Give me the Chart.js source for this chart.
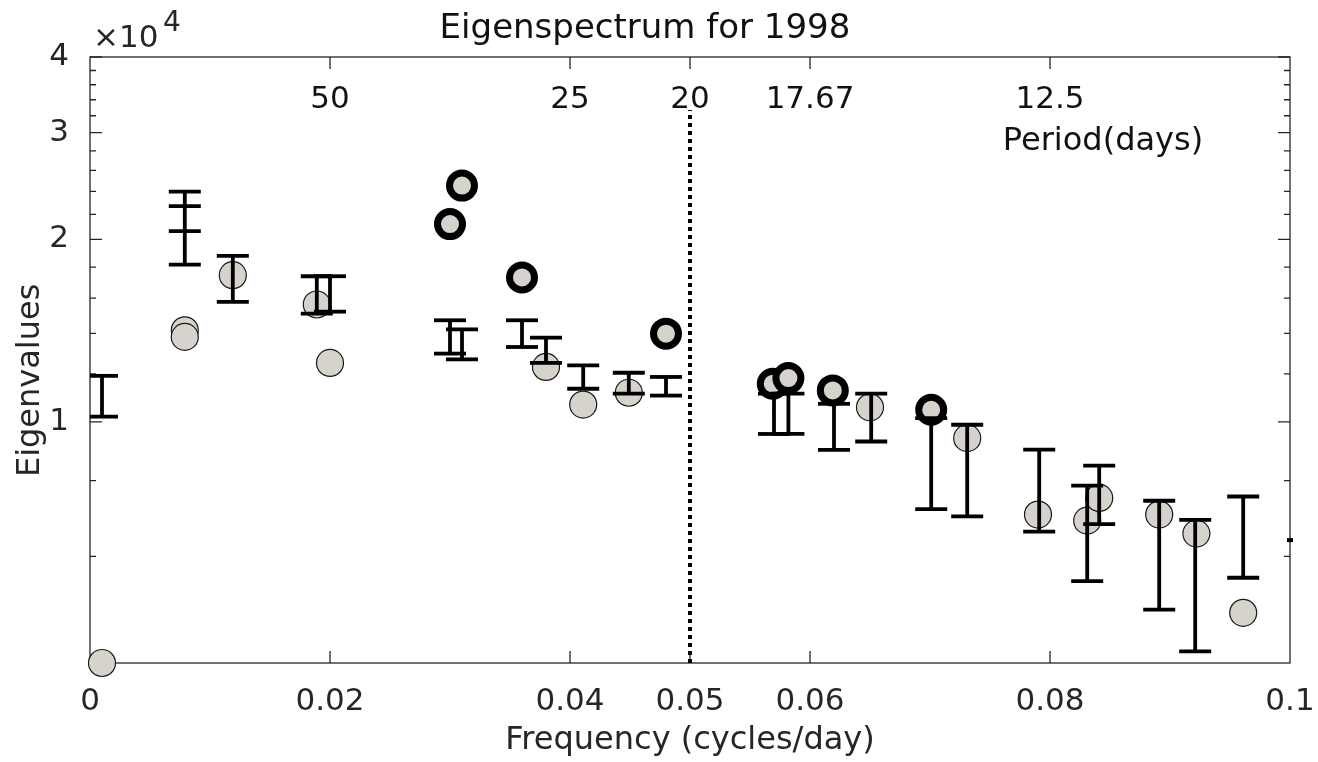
<!DOCTYPE html>
<html>
<head>
<meta charset="utf-8">
<script src="https://cdn.jsdelivr.net/npm/chart.js@4.4.0/dist/chart.umd.min.js"></script>
<style>
  html, body { margin: 0; padding: 0; background: #fff; }
  canvas { display: block; }
</style>
</head>
<body>
<canvas id="myChart" width="1318" height="762"></canvas>
<script>
// eigenvalues (filled grey circles)
const grayFreq = [0.001, 0.0079, 0.0079, 0.0119, 0.0189, 0.0200, 0.0380, 0.0411, 0.0449, 0.0650, 0.0731, 0.0790, 0.0831, 0.0841, 0.0891, 0.0922, 0.0961]
const grayVal = [4000, 14160, 13810, 17460, 15620, 12510, 12320, 10680, 11170, 10570, 9400, 7030, 6870, 7490, 7030, 6540, 4840]

// significant eigenvalues (thick black rings)
const boldFreq = [0.0300, 0.0310, 0.0360, 0.0480, 0.0569, 0.0582, 0.0619, 0.0701]
const boldVal = [21200, 24540, 17310, 13980, 11560, 11810, 11270, 10470]

// confidence intervals
const errFreq = [0.001, 0.0079, 0.0079, 0.0119, 0.0189, 0.0200, 0.0300, 0.0310, 0.0360, 0.0380, 0.0411, 0.0449, 0.0480, 0.0570, 0.0582, 0.0620, 0.0651, 0.0701, 0.0731, 0.0791, 0.0831, 0.0841, 0.0891, 0.0921, 0.0961]
const errHi = [11910, 23990, 22700, 18790, 17390, 17390, 14710, 14210, 14710, 13770, 12390, 12050, 11860, 11130, 11130, 10710, 11130, 10140, 9890, 9000, 7850, 8470, 7410, 6890, 7530]
const errLo = [10200, 20640, 18180, 15780, 15090, 15200, 12960, 12680, 13290, 12510, 11340, 11130, 11050, 9550, 9550, 8990, 9280, 7180, 6980, 6590, 5460, 6780, 4900, 4180, 5530]

// clipped cap at the right edge
const edgeFreq = [0.1]
const edgeVal = [6380]

// 20-day period marker
const markerFreq = 0.05
const markerRange = [4000, 32700]

// axes
const xTicks = [0, 0.02, 0.04, 0.05, 0.06, 0.08, 0.1]
const yTicks = [10000, 20000, 30000, 40000]
const yMinor = [6000, 8000, 12000, 14000, 16000, 18000, 22000, 24000, 26000, 28000, 32000, 34000, 36000, 38000]
const periodFreq = [0.02, 0.04, 0.05, 0.06, 0.08]
const periodLabels = ['50', '25', '20', '17.67', '12.5']

const ink = '#262626'
Chart.defaults.font.family = "'DejaVu Sans', sans-serif"
Chart.defaults.color = ink

let errPoints = []
for (let i = 0; i < errFreq.length; i++) {
    errPoints.push({x: errFreq[i], y: errLo[i]})
    errPoints.push({x: errFreq[i], y: errHi[i]})
    errPoints.push({x: errFreq[i], y: null})
}

const matlabAxes = {
    id: 'matlabAxes',
    beforeDatasetsDraw(chart) {
        const {ctx, chartArea: a, scales: {x, y}} = chart
        ctx.save()
        ctx.strokeStyle = ink
        ctx.lineWidth = 1.3
        ctx.strokeRect(a.left, a.top, a.right - a.left, a.bottom - a.top)
        ctx.beginPath()
        for (let v of xTicks) {
            if (v === 0 || v === 0.1) continue
            let px = x.getPixelForValue(v)
            ctx.moveTo(px, a.bottom); ctx.lineTo(px, a.bottom - 12)
            ctx.moveTo(px, a.top); ctx.lineTo(px, a.top + 12)
        }
        for (let v of yTicks.concat(yMinor)) {
            let len = yTicks.includes(v) ? 12 : 6
            let py = y.getPixelForValue(v)
            ctx.moveTo(a.left, py); ctx.lineTo(a.left + len, py)
            ctx.moveTo(a.right, py); ctx.lineTo(a.right - len, py)
        }
        ctx.stroke()
        ctx.restore()
    },
    afterDatasetsDraw(chart) {
        const {ctx, scales: {x}} = chart
        ctx.save()
        ctx.fillStyle = '#111'
        ctx.textAlign = 'center'
        ctx.textBaseline = 'alphabetic'
        ctx.font = "31px 'DejaVu Sans'"
        for (let i = 0; i < periodFreq.length; i++) {
            ctx.fillText(periodLabels[i], x.getPixelForValue(periodFreq[i]), 108)
        }
        ctx.font = "32px 'DejaVu Sans'"
        ctx.fillText('Period(days)', 1103, 150)
        ctx.fillStyle = ink
        ctx.textAlign = 'left'
        ctx.font = "31px 'DejaVu Sans'"
        ctx.fillText('\u00d710', 93, 47)
        ctx.font = "28px 'DejaVu Sans'"
        ctx.fillText('4', 163, 31)
        ctx.restore()
    }
}

const ctx = document.getElementById('myChart')
new Chart(ctx, {
    type: 'scatter',
    data: {
        datasets: [{
            label: 'CI',
            data: errPoints,
            showLine: true,
            spanGaps: false,
            borderColor: '#000',
            borderWidth: 3.8,
            pointStyle: 'line',
            pointRadius: 16,
            pointBorderWidth: 3.8,
            pointBorderColor: '#000'
        }, {
            label: 'edge',
            data: edgeFreq.map((f, i) => ({x: f, y: edgeVal[i]})),
            pointStyle: 'line',
            pointRadius: 3,
            pointBorderWidth: 4,
            pointBorderColor: '#000',
            clip: false
        }, {
            label: 'Significant',
            data: boldFreq.map((f, i) => ({x: f, y: boldVal[i]})),
            pointRadius: 12.5,
            pointBorderWidth: 7,
            pointBorderColor: '#000',
            pointBackgroundColor: '#d6d3cd'
        }, {
            label: 'Eigenvalues',
            data: grayFreq.map((f, i) => ({x: f, y: grayVal[i]})),
            pointRadius: 13.5,
            pointBorderWidth: 1.2,
            pointBorderColor: '#1a1a1a',
            pointBackgroundColor: '#d6d3cd',
            clip: false
        }, {
            label: '20 days',
            data: markerRange.map(v => ({x: markerFreq, y: v})),
            showLine: true,
            borderColor: '#000',
            borderWidth: 4,
            borderDash: [4, 4],
            pointRadius: 0
        }]
    },
    options: {
        responsive: false,
        animation: false,
        devicePixelRatio: 1,
        layout: {padding: {left: 0, right: 28, top: 0, bottom: 0}},
        plugins: {
            legend: {display: false},
            tooltip: {enabled: false},
            title: {
                display: true,
                text: 'Eigenspectrum for 1998',
                color: '#111',
                font: {size: 34, weight: 'normal'},
                padding: {top: 9, bottom: 7.2}
            }
        },
        scales: {
            x: {
                type: 'linear',
                min: 0,
                max: 0.1,
                bounds: 'data',
                afterBuildTicks: s => { s.ticks = xTicks.map(v => ({value: v})) },
                afterFit: s => { s.height = 99; s.paddingLeft = 0; s.paddingRight = 0 },
                grid: {display: false},
                border: {display: false},
                ticks: {
                    callback: v => String(v),
                    font: {size: 31},
                    padding: 12,
                    maxRotation: 0,
                    autoSkip: false
                },
                title: {
                    display: true,
                    text: 'Frequency (cycles/day)',
                    font: {size: 32},
                    padding: {top: 0, bottom: 2}
                }
            },
            y: {
                type: 'logarithmic',
                min: 4000,
                max: 40000,
                bounds: 'data',
                afterBuildTicks: s => { s.ticks = yTicks.map(v => ({value: v})) },
                afterFit: s => { s.width = 90; s.paddingTop = 0; s.paddingBottom = 0 },
                grid: {display: false},
                border: {display: false},
                ticks: {
                    callback: v => String(v / 10000),
                    font: {size: 31},
                    padding: 13,
                    autoSkip: false
                },
                title: {
                    display: true,
                    text: 'Eigenvalues    ',
                    font: {size: 32},
                    padding: {top: 11, bottom: 0}
                }
            }
        }
    },
    plugins: [matlabAxes]
})
</script>
</body>
</html>
